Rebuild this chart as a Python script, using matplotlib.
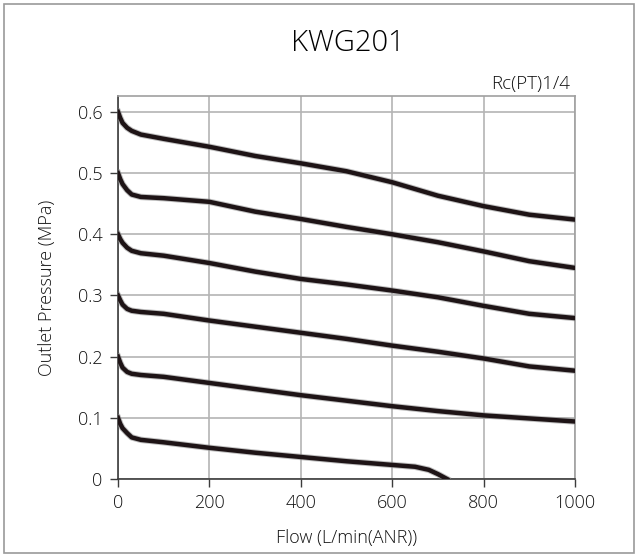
import matplotlib
matplotlib.use("Agg")
import matplotlib.pyplot as plt
from matplotlib.patches import Rectangle

plt.rcParams['font.family'] = ['Open Sans', 'DejaVu Sans']
plt.rcParams['font.weight'] = 'light'
plt.rcParams['axes.labelweight'] = 'light'

# flow points (L/min(ANR))
flow = [0, 5, 10, 20, 30, 50, 100, 200, 300, 400, 500, 600, 700, 800, 900, 1000]
p06 = [0.600, 0.590, 0.582, 0.574, 0.569, 0.563, 0.556, 0.543, 0.528, 0.516, 0.503, 0.485, 0.463, 0.446, 0.432, 0.424]
p05 = [0.500, 0.490, 0.482, 0.472, 0.465, 0.461, 0.459, 0.453, 0.437, 0.425, 0.412, 0.400, 0.387, 0.372, 0.356, 0.345]
p04 = [0.400, 0.392, 0.386, 0.378, 0.373, 0.369, 0.365, 0.353, 0.339, 0.327, 0.318, 0.308, 0.297, 0.283, 0.270, 0.263]
p03 = [0.300, 0.292, 0.285, 0.278, 0.275, 0.273, 0.270, 0.259, 0.249, 0.239, 0.229, 0.218, 0.208, 0.197, 0.184, 0.177]
p02 = [0.200, 0.190, 0.182, 0.175, 0.172, 0.170, 0.167, 0.157, 0.147, 0.137, 0.128, 0.119, 0.111, 0.104, 0.099, 0.094]
# lowest curve stops where the pressure hits zero
flow01 = [0, 5, 10, 20, 30, 50, 100, 200, 300, 400, 500, 600, 650, 680, 700, 720]
p01 = [0.100, 0.090, 0.083, 0.075, 0.068, 0.064, 0.060, 0.051, 0.043, 0.036, 0.029, 0.023, 0.020, 0.015, 0.008, 0.0]

curves = [(flow, p06), (flow, p05), (flow, p04), (flow, p03), (flow, p02), (flow01, p01)]

xticks = [0, 200, 400, 600, 800, 1000]
yticks = [0, 0.1, 0.2, 0.3, 0.4, 0.5, 0.6]
ytick_labels = ['0', '0.1', '0.2', '0.3', '0.4', '0.5', '0.6']

fig = plt.figure(figsize=(6.38, 5.57), dpi=100)
ax = fig.add_axes([118 / 638, 1 - 479 / 557, (575 - 118) / 638, (479 - 96) / 557])

# outer border of the figure
fig.patches.append(Rectangle((4 / 638, 4 / 557), 630 / 638, 549 / 557,
                             transform=fig.transFigure, fill=False,
                             edgecolor='#9a9a9a', linewidth=1.2))

for fx, py in curves:
    ax.plot(fx, py, color='#8c8c8c', alpha=0.55, linewidth=4.6,
            solid_joinstyle='round', zorder=3)
    ax.plot(fx, py, color='#1e1416', linewidth=3.2,
            solid_joinstyle='round', zorder=4)

ax.set_xlim(0, 1000)
ax.set_ylim(0, 0.626)
ax.set_xticks(xticks)
ax.set_yticks(yticks)
ax.set_yticklabels(ytick_labels)
ax.grid(True, color='#b4b4b4', linewidth=1.2)
ax.set_axisbelow(True)

for side in ['top', 'right']:
    ax.spines[side].set_color('#a0a0a0')
    ax.spines[side].set_linewidth(1.2)
for side in ['left', 'bottom']:
    ax.spines[side].set_color('#3c3c3c')
    ax.spines[side].set_linewidth(1.2)

ax.tick_params(direction='out', length=6, width=1, color='#3c3c3c',
               labelsize=13, labelcolor='#111111', pad=5)
ax.set_xlabel('Flow (L/min(ANR))', fontsize=13, color='#111111', labelpad=12)
ax.set_ylabel('Outlet Pressure (MPa)', fontsize=13, color='#111111', labelpad=16)

fig.text(348 / 638, 1 - 51 / 557, 'KWG201', ha='center', va='baseline',
         fontsize=21, color='#000000')
fig.text(570 / 638, 1 - 89 / 557, 'Rc(PT)1/4', ha='right', va='baseline',
         fontsize=13.5, color='#111111')

fig.savefig('out.png', dpi=100, facecolor='white')
